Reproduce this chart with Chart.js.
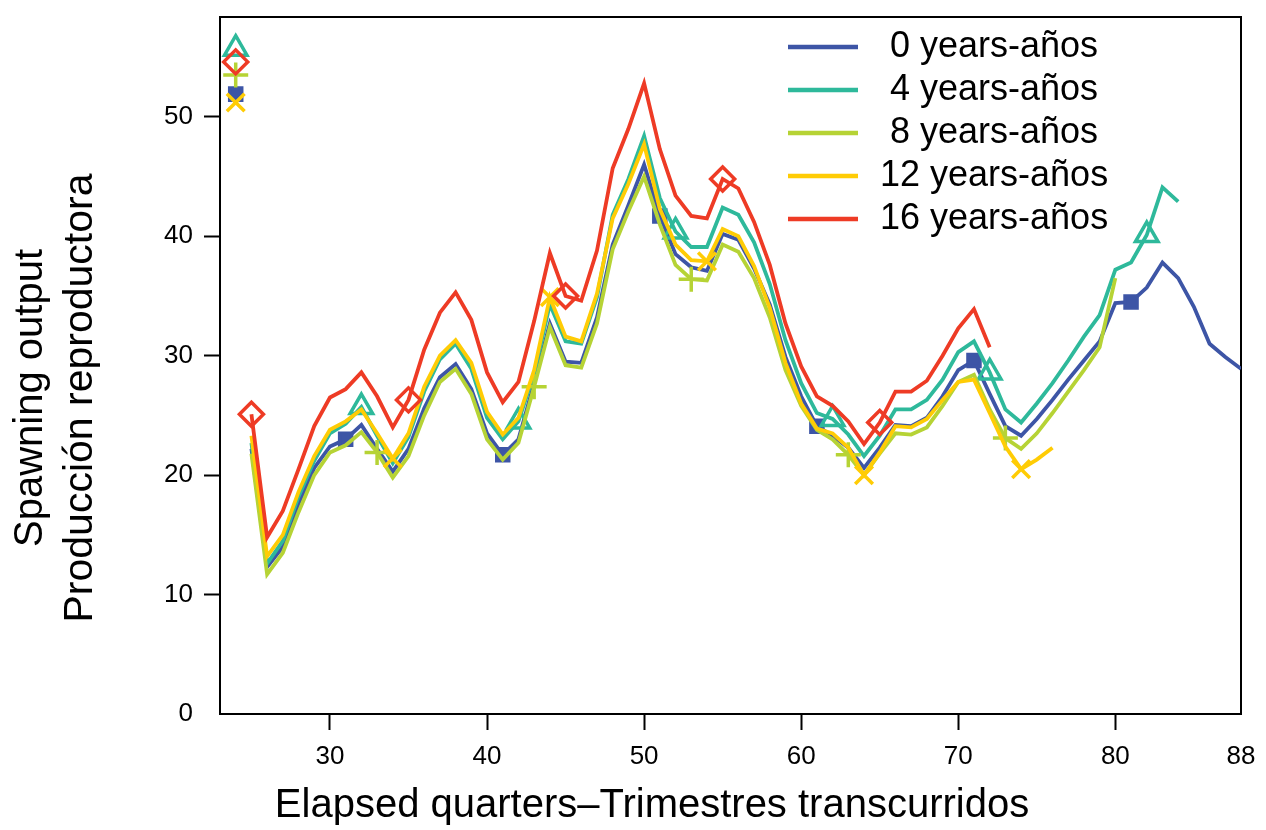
<!DOCTYPE html>
<html>
<head>
<meta charset="utf-8">
<script src="https://cdn.jsdelivr.net/npm/chart.js@4.4.1/dist/chart.umd.min.js"></script>
<style>
  html, body { margin: 0; padding: 0; background: #fff; }
  #wrap { width: 1266px; height: 830px; }
</style>
</head>
<body>
<div id="wrap"><canvas id="spawnChart" width="1266" height="830"></canvas></div>
<script>
// elapsed quarters (x) and spawning output per projection length
const quarters = [24, 25, 26, 27, 28, 29, 30, 31, 32, 33, 34, 35, 36, 37, 38, 39, 40, 41, 42, 43,
  44, 45, 46, 47, 48, 49, 50, 51, 52, 53, 54, 55, 56, 57, 58, 59, 60, 61, 62, 63,
  64, 65, 66, 67, 68, 69, 70, 71, 72, 73, 74, 75, 76, 77, 78, 79, 80, 81, 82, 83,
  84, 85, 86, 87, 88];

const spawn0 = [51.9, 22.2, 12.3, 14.0, 17.6, 20.6, 22.4, 23.0, 24.2, 22.2,
  20.3, 22.2, 25.6, 28.2, 29.3, 27.2, 23.5, 21.7, 23.0, 27.7,
  32.7, 29.5, 29.4, 33.2, 39.3, 42.6, 46.0, 41.7, 38.5, 37.4,
  37.1, 40.2, 39.7, 37.3, 34.3, 29.9, 26.6, 24.1, 23.3, 22.3,
  20.6, 22.3, 24.2, 24.1, 24.8, 26.6, 28.8, 29.6, 26.8, 24.1,
  23.3, 24.7, 26.3, 28.0, 29.6, 31.2, 34.4, 34.5, 35.7, 37.8,
  36.5, 34.1, 31.0, 29.9, 28.9];
const spawn4 = [55.7, 22.7, 12.6, 14.5, 18.2, 21.2, 23.5, 24.3, 25.7, 23.3,
  21.0, 23.2, 27.0, 29.7, 31.0, 28.9, 24.8, 23.0, 24.5, 28.5,
  34.3, 31.2, 31.0, 34.9, 41.8, 44.8, 48.4, 43.2, 40.4, 39.1,
  39.1, 42.4, 41.8, 39.5, 36.0, 31.3, 27.7, 25.2, 24.7, 23.4,
  21.6, 23.3, 25.5, 25.5, 26.3, 28.0, 30.3, 31.2, 28.6, 25.5,
  24.4, 26.0, 27.7, 29.6, 31.6, 33.4, 37.2, 37.8, 40.1, 44.1,
  42.9];
const spawn8 = [53.5, 21.8, 11.7, 13.5, 16.9, 20.0, 21.9, 22.5, 23.6, 21.9,
  19.8, 21.6, 25.0, 27.8, 28.9, 26.8, 23.0, 21.3, 22.7, 27.4,
  32.4, 29.2, 29.0, 32.7, 38.9, 42.1, 45.0, 41.0, 37.6, 36.4,
  36.3, 39.3, 38.7, 36.5, 33.2, 28.8, 25.8, 23.8, 23.0, 21.7,
  20.0, 21.8, 23.5, 23.4, 24.0, 25.8, 27.8, 28.4, 25.5, 23.1,
  22.2, 23.5, 25.2, 27.0, 28.8, 30.7, 36.5];
const spawn12 = [51.2, 23.3, 13.2, 15.0, 18.6, 21.6, 23.8, 24.5, 25.5, 23.5,
  21.4, 23.5, 27.4, 30.0, 31.3, 29.4, 25.3, 23.4, 24.8, 28.8,
  34.9, 31.6, 31.2, 35.2, 41.5, 44.4, 47.7, 42.3, 39.3, 38.0,
  37.9, 40.6, 40.0, 37.5, 34.0, 29.4, 26.0, 23.9, 23.5, 22.3,
  20.0, 21.9, 24.1, 24.0, 24.7, 26.3, 27.8, 28.0, 25.2, 22.4,
  20.5, 21.3, 22.3];
const spawn16 = [54.6, 25.1, 14.8, 17.0, 20.5, 24.1, 26.5, 27.2, 28.6, 26.6,
  24.0, 26.3, 30.5, 33.6, 35.3, 33.0, 28.6, 26.1, 27.8, 32.9,
  38.6, 35.0, 34.6, 38.8, 45.7, 49.0, 52.8, 47.3, 43.4, 41.7,
  41.5, 44.8, 44.0, 41.2, 37.6, 32.7, 29.1, 26.6, 25.8, 24.5,
  22.6, 24.4, 27.0, 27.0, 27.9, 30.0, 32.3, 33.9, 30.7];

// quarters that carry a symbol on each line
const marks0 = [24, 31, 41, 51, 61, 71, 81];
const marks4 = [24, 32, 42, 52, 62, 72, 82];
const marks8 = [24, 33, 43, 53, 63, 73];
const marks12 = [24, 34, 44, 54, 64, 74];
const marks16 = [24, 25, 35, 45, 55, 65];

const seriesNames = [' 0 years-años', ' 4 years-años', ' 8 years-años', '12 years-años', '16 years-años'];
const xTicks = [30, 40, 50, 60, 70, 80, 88];
const yTicks = [0, 10, 20, 30, 40, 50];
const xTitle = 'Elapsed quarters\u2013Trimestres transcurridos';
const yTitle = ['Spawning output', 'Producción reproductora'];

const FONT = '"Liberation Sans", Arial, Helvetica, sans-serif';
const CLEAR = 'rgba(0,0,0,0)';

function makeSet(values, name, color, marks, style, radius, filled, order) {
  return {
    label: name,
    data: values.map((v, i) => ({ x: quarters[i], y: v })),
    borderColor: color,
    borderWidth: 3.8,
    borderJoinStyle: 'miter',
    pointStyle: style,
    pointRadius: ctx => marks.includes(quarters[ctx.dataIndex]) ? radius : 0,
    pointBorderWidth: 3.5,
    pointBorderColor: color,
    pointBackgroundColor: filled ? color : CLEAR,
    // first value stands alone, no segment to the next quarter
    segment: { borderColor: ctx => ctx.p0DataIndex === 0 ? CLEAR : undefined },
    tension: 0,
    fill: false,
    order: order
  };
}

const legendLines = {
  id: 'legendLines',
  afterDraw(chart) {
    const c = chart.ctx;
    c.save();
    c.font = '36px ' + FONT;
    c.textBaseline = 'middle';
    c.textAlign = 'left';
    chart.data.datasets.forEach((ds, i) => {
      const y = 47 + i * 43;
      c.strokeStyle = ds.borderColor;
      c.lineWidth = 4.5;
      c.beginPath();
      c.moveTo(788, y);
      c.lineTo(858, y);
      c.stroke();
      c.fillStyle = '#000';
      c.fillText(ds.label, 880, y);
    });
    c.restore();
  }
};

const axisTitles = {
  id: 'axisTitles',
  afterDraw(chart) {
    const c = chart.ctx;
    c.save();
    c.fillStyle = '#000';
    c.font = '40px ' + FONT;
    c.textAlign = 'center';
    c.textBaseline = 'alphabetic';
    c.fillText(xTitle, 652, 817);
    c.translate(0, 398);
    c.rotate(-Math.PI / 2);
    c.fillText(yTitle[0], 0, 42);
    c.font = '41px ' + FONT;
    c.fillText(yTitle[1], 0, 92);
    c.restore();
  }
};

document.addEventListener('DOMContentLoaded', function () {
  const canvas = document.getElementById('spawnChart');
  if (!canvas) return;

  new Chart(canvas.getContext('2d'), {
    type: 'line',
    data: {
      datasets: [
        makeSet(spawn0, seriesNames[0], '#3D55A6', marks0, 'rect', 8.5, true, 5),
        makeSet(spawn4, seriesNames[1], '#2EB99B', marks4, 'triangle', 13, false, 4),
        makeSet(spawn8, seriesNames[2], '#B6D335', marks8, 'cross', 12.5, false, 3),
        makeSet(spawn12, seriesNames[3], '#FFCC05', marks12, 'crossRot', 12.5, false, 2),
        makeSet(spawn16, seriesNames[4], '#EE3B25', marks16, 'rectRot', 12, false, 1)
      ]
    },
    options: {
      responsive: false,
      animation: false,
      events: [],
      layout: { padding: { top: 9, right: 25, bottom: 0, left: 0 } },
      plugins: {
        legend: { display: false },
        tooltip: { enabled: false }
      },
      scales: {
        x: {
          type: 'linear',
          position: 'bottom',
          min: 23,
          max: 88,
          afterBuildTicks: s => { s.ticks = xTicks.map(v => ({ value: v })); },
          afterFit: s => { s.height = 116; s.paddingLeft = 0; s.paddingRight = 0; },
          grid: {
            display: true,
            drawOnChartArea: false,
            drawTicks: true,
            tickLength: 16,
            tickWidth: 2,
            tickColor: ctx => (ctx.tick && ctx.tick.value === 88) ? CLEAR : '#000'
          },
          border: { display: true, color: '#000', width: 2 },
          ticks: { color: '#000', font: { family: FONT, size: 26 }, padding: 11, maxRotation: 0, autoSkip: false }
        },
        y: {
          type: 'linear',
          position: 'left',
          min: 0,
          max: 58.4,
          afterBuildTicks: s => { s.ticks = yTicks.map(v => ({ value: v })); },
          afterFit: s => { s.width = 220; s.paddingTop = 0; s.paddingBottom = 0; },
          grid: {
            display: true,
            drawOnChartArea: false,
            drawTicks: true,
            tickLength: 16,
            tickWidth: 2,
            tickColor: ctx => (ctx.tick && ctx.tick.value === 0) ? CLEAR : '#000'
          },
          border: { display: true, color: '#000', width: 2 },
          ticks: { color: '#000', font: { family: FONT, size: 26 }, padding: 11 }
        },
        xTop: {
          type: 'linear',
          position: 'top',
          min: 23,
          max: 88,
          afterFit: s => { s.height = 0; s.paddingLeft = 0; s.paddingRight = 0; },
          grid: { display: true, drawOnChartArea: false, drawTicks: false },
          border: { display: true, color: '#000', width: 2 },
          ticks: { display: false }
        },
        yRight: {
          type: 'linear',
          position: 'right',
          min: 0,
          max: 58.4,
          afterFit: s => { s.width = 0; s.paddingTop = 0; s.paddingBottom = 0; },
          grid: { display: true, drawOnChartArea: false, drawTicks: false },
          border: { display: true, color: '#000', width: 2 },
          ticks: { display: false }
        }
      }
    },
    plugins: [legendLines, axisTitles]
  });
});
</script>
</body>
</html>
